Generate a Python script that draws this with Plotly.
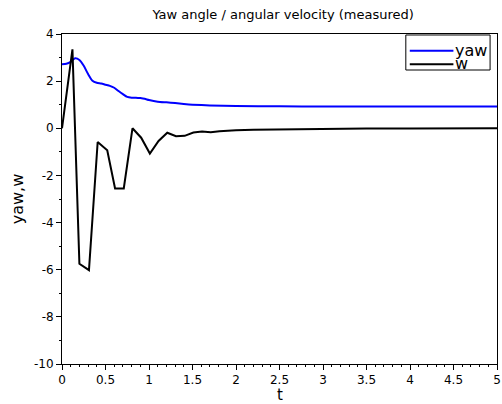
import plotly.graph_objects as go

# ---- data ----
t_yaw = [0, 0.05, 0.1, 0.15, 0.2, 0.25, 0.3, 0.35, 0.4, 0.45, 0.5, 0.55, 0.6, 0.65,
         0.7, 0.75, 0.8, 0.85, 0.9, 0.95, 1.0, 1.1, 1.2, 1.3, 1.4, 1.5, 1.7, 2.0,
         2.5, 3.0, 4.0, 5.0]
yaw = [2.72, 2.74, 2.82, 2.97, 2.9, 2.65, 2.3, 2.02, 1.93, 1.9, 1.85, 1.8, 1.72, 1.58,
       1.45, 1.33, 1.3, 1.3, 1.28, 1.25, 1.2, 1.13, 1.1, 1.07, 1.03, 1.0, 0.97, 0.95,
       0.93, 0.92, 0.92, 0.92]

t_w = [0, 0.12, 0.2, 0.31, 0.41, 0.52, 0.61, 0.71, 0.81, 0.91, 1.01, 1.11, 1.21, 1.31,
       1.41, 1.51, 1.61, 1.71, 1.81, 1.91, 2.0, 2.2, 2.4, 2.6, 2.8, 3.0, 3.5, 4.0, 4.5, 5.0]
w = [0, 3.35, -5.75, -6.02, -0.58, -0.93, -2.55, -2.55, 0, -0.4, -1.07, -0.54, -0.19, -0.34,
     -0.32, -0.18, -0.14, -0.17, -0.13, -0.1, -0.08, -0.06, -0.05, -0.04, -0.03, -0.02,
     -0.01, -0.01, 0, 0]

series_names = ["yaw", "w"]
series_colors = ["#0000ff", "#000000"]

x_tickvals = [0, 0.5, 1, 1.5, 2, 2.5, 3, 3.5, 4, 4.5, 5]
x_ticktext = ["0", "0.5", "1", "1.5", "2", "2.5", "3", "3.5", "4", "4.5", "5"]
y_tickvals = [-10, -8, -6, -4, -2, 0, 2, 4]
y_ticktext = ["-10", "-8", "-6", "-4", "-2", "0", "2", "4"]

FONT = "DejaVu Sans"

fig = go.Figure()
fig.add_trace(go.Scatter(x=t_yaw, y=yaw, mode="lines", name=series_names[0],
                         line=dict(color=series_colors[0], width=2, shape="spline", smoothing=0.6)))
fig.add_trace(go.Scatter(x=t_w, y=w, mode="lines", name=series_names[1],
                         line=dict(color=series_colors[1], width=2)))

axis_common = dict(
    showgrid=False, zeroline=False, showline=True, linecolor="black", linewidth=1,
    mirror=True, ticks="outside", tickcolor="black", tickwidth=1, ticklen=5,
    tickfont=dict(family=FONT, size=12, color="black"), ticklabeloverflow="allow",
)

fig.update_xaxes(
    range=[0, 5], tickvals=x_tickvals, ticktext=x_ticktext,
    minor=dict(dtick=0.1, ticks="outside", ticklen=2, tickcolor="black"),
    **axis_common,
)
fig.update_yaxes(
    range=[-10, 4], tickvals=y_tickvals, ticktext=y_ticktext,
    minor=dict(dtick=1, ticks="outside", ticklen=2, tickcolor="black"),
    title=dict(text="yaw,w", font=dict(family=FONT, size=16, color="black"), standoff=6),
    **axis_common,
)

# legend box drawn in paper coordinates (top-right corner of the plot area)
shapes = [dict(type="rect", xref="paper", yref="paper", x0=0.7904, x1=0.9841, y0=0.8909, y1=0.9970,
               line=dict(color="black", width=1), fillcolor="white", layer="above")]
annotations = []
legend_rows = [0.9494, 0.9082]
for name, color, yy in zip(series_names, series_colors, legend_rows):
    shapes.append(dict(type="line", xref="paper", yref="paper", x0=0.7995, x1=0.8998, y0=yy, y1=yy,
                       line=dict(color=color, width=2), layer="above"))
    annotations.append(dict(text=name, xref="paper", yref="paper", x=0.8985, y=yy + 0.002,
                            xanchor="left", yanchor="middle", showarrow=False,
                            font=dict(family=FONT, size=16, color="black")))

# x-axis title
annotations.append(dict(text="t", xref="paper", yref="paper", x=0.5, y=-0.094,
                        xanchor="center", yanchor="middle", showarrow=False,
                        font=dict(family=FONT, size=15, color="black")))

fig.update_layout(
    width=502, height=404,
    margin=dict(l=62, r=1, t=34, b=40),
    paper_bgcolor="white", plot_bgcolor="white",
    font=dict(family=FONT, size=12, color="black"),
    title=dict(text="Yaw angle / angular velocity (measured)", x=0.564, xanchor="center",
               y=0.965, yanchor="middle", font=dict(family=FONT, size=13, color="black")),
    showlegend=False,
    shapes=shapes,
    annotations=annotations,
    hovermode=False,
)

fig.write_html("out.html", config={"displayModeBar": False},
               post_script="document.body.style.margin='0';document.body.style.overflow='hidden';")
